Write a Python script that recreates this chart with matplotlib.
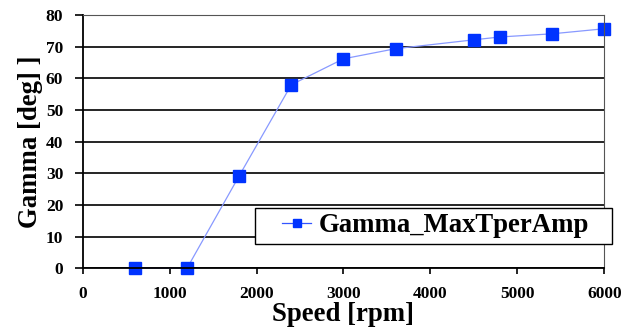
import matplotlib
matplotlib.use('Agg')
import matplotlib.pyplot as plt
from matplotlib.patches import Rectangle

# speed sweep and resulting gamma angle
speed = [600, 1200, 1800, 2400, 3000, 3600, 4500, 4800, 5400, 6000]
gamma = [0.0, 0.0, 29.2, 58.0, 66.2, 69.4, 72.2, 73.1, 74.1, 75.7]
x_ticks = [0, 1000, 2000, 3000, 4000, 5000, 6000]
y_ticks = [0, 10, 20, 30, 40, 50, 60, 70, 80]

plt.rcParams['font.family'] = ['Liberation Serif', 'DejaVu Serif']
plt.rcParams['font.weight'] = 'bold'

W, H = 631, 329
fig = plt.figure(figsize=(W / 100, H / 100), dpi=100)
ax = fig.add_axes([0.131, 0.1845, 0.8267, 0.7695])

ax.plot(speed, gamma, color='#8899ff', lw=0.9, marker='s', ms=8,
        mfc='#0033ff', mec='#0033ff', label='Gamma_MaxTperAmp', clip_on=False)

ax.set_xlim(0, 6000)
ax.set_ylim(0, 80)
ax.set_xticks(x_ticks)
ax.set_yticks(y_ticks)
ax.yaxis.grid(True, color='black', lw=1.2)
ax.set_axisbelow(True)

for side in ['left', 'bottom']:
    ax.spines[side].set_linewidth(1.3)
ax.spines['top'].set_color('#555555')
ax.spines['right'].set_color('#555555')

ax.tick_params(axis='both', direction='out', labelsize=12.5, width=1.2)
ax.tick_params(axis='y', length=6, pad=8)
ax.tick_params(axis='x', length=4, pad=9)
for lab in ax.get_xticklabels() + ax.get_yticklabels():
    lab.set_fontweight('bold')

ax.set_xlabel('Speed [rpm]', fontsize=19.3, fontweight='bold', labelpad=0)
ax.set_ylabel('Gamma [deg] ]', fontsize=19.3, fontweight='bold', labelpad=2)

# legend box is wider than the text, so draw the frame separately
box = Rectangle((255 / W, 1 - 244 / H), 357 / W, 36 / H, transform=fig.transFigure,
                facecolor='white', edgecolor='black', lw=1.0, zorder=5, clip_on=False)
ax.add_patch(box)
leg = ax.legend(loc='center left', bbox_to_anchor=(282 / W, 1 - 226 / H),
                bbox_transform=fig.transFigure, prop={'size': 19.3, 'weight': 'bold'},
                frameon=False, borderpad=0, handlelength=1.1, handletextpad=0.27,
                borderaxespad=0, markerscale=0.75)
leg.set_zorder(6)
leg.get_lines()[0].set_color('#3355ff')

fig.savefig('out.png', dpi=100)
